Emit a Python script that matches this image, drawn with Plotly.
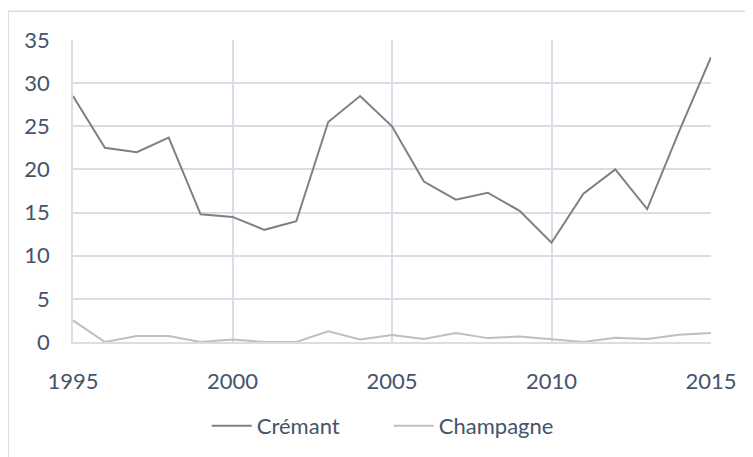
import plotly.graph_objects as go

years = list(range(1995, 2016))
cremant = [28.5, 22.5, 22.0, 23.7, 14.8, 14.5, 13.0, 14.0, 25.5, 28.5, 25.0,
           18.6, 16.5, 17.3, 15.2, 11.5, 17.2, 20.0, 15.4, 24.4, 33.0]
champagne = [2.5, 0.0, 0.7, 0.7, 0.0, 0.3, 0.0, 0.0, 1.25, 0.3, 0.8,
             0.35, 1.05, 0.45, 0.65, 0.35, 0.0, 0.5, 0.35, 0.85, 1.05]
x_ticks = [1995, 2000, 2005, 2010, 2015]
y_ticks = [0, 5, 10, 15, 20, 25, 30, 35]

grid = "#D9DEE6"
txt = "#44546A"
FONT = "Lato"
FS = 22

fig = go.Figure()
fig.add_trace(go.Scatter(x=years, y=cremant, mode="lines", name="Crémant",
                         line=dict(color="#808080", width=2)))
fig.add_trace(go.Scatter(x=years, y=champagne, mode="lines", name="Champagne",
                         line=dict(color="#BFBFBF", width=2)))

fig.update_layout(
    width=753, height=457,
    margin=dict(l=65, r=50, t=32, b=123, autoexpand=False),
    paper_bgcolor="white", plot_bgcolor="white",
    font=dict(family=FONT, size=FS, color=txt),
    showlegend=True,
    legend=dict(orientation="h", x=0.495, xanchor="center",
                yref="container", y=1 - 418 / 457, yanchor="middle",
                font=dict(family=FONT, size=FS, color=txt),
                itemwidth=40, entrywidth=127, entrywidthmode="pixels"),
    xaxis=dict(range=[1995, 2015], tickvals=x_ticks, ticktext=[str(v) for v in x_ticks],
               showgrid=True, gridcolor=grid, gridwidth=1.5, zeroline=False,
               showline=True, linecolor=grid, linewidth=1.5, ticks="",
               ticklabelstandoff=19, automargin=False),
    yaxis=dict(range=[0, 35], tickvals=y_ticks, ticktext=[str(v) for v in y_ticks],
               showgrid=True, gridcolor=grid, gridwidth=1.5, zeroline=False,
               showline=True, linecolor=grid, linewidth=1.5, ticks="",
               ticklabelstandoff=17, automargin=False),
    shapes=[dict(type="rect", xref="paper", yref="paper",
                 x0=-0.1014, x1=1.3, y0=-0.6, y1=1.095,
                 line=dict(color=grid, width=1.5), fillcolor="rgba(0,0,0,0)",
                 layer="below")],
)

fig.write_html("out.html")
